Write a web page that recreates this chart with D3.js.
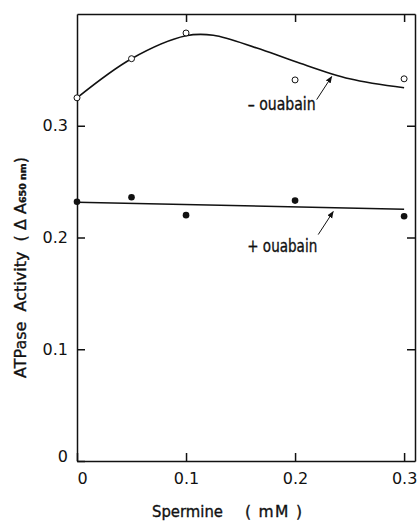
<!DOCTYPE html>
<html>
<head>
<meta charset="utf-8">
<script src="https://cdn.jsdelivr.net/npm/d3@7"></script>
<style>
  body { margin: 0; background: #fff; }
  svg { display: block; }
  .label { font-family: "DejaVu Sans", sans-serif; fill: #111; stroke: #111; stroke-width: 0.35; }
  .axis text { font-family: "DejaVu Sans", sans-serif; font-size: 16px; fill: #111; }
  .axis path, .axis line { stroke: #111; stroke-width: 1.5; }
</style>
</head>
<body>
<svg id="chart"></svg>
<script>
// spermine concentrations (mM)
const spermine = [0, 0.05, 0.1, 0.2, 0.3];
// ATPase activity, A650
const minusOuabain = [0.325, 0.360, 0.383, 0.341, 0.342];
const plusOuabain = [0.232, 0.236, 0.220, 0.233, 0.219];

// hand drawn fit curves
const minusFitX = [0, 0.05, 0.1, 0.125, 0.165, 0.2, 0.25, 0.3];
const minusFitY = [0.325, 0.360, 0.3805, 0.381, 0.3695, 0.3575, 0.342, 0.334];
const plusFitX = [0, 0.3];
const plusFitY = [0.2316, 0.2253];

const xTicks = [0, 0.1, 0.2, 0.3];
const yTicks = [0, 0.1, 0.2, 0.3];

const width = 417, height = 523;
const margin = { top: 14, right: 2, bottom: 62, left: 77 };

const svg = d3.select("#chart")
  .attr("width", width)
  .attr("height", height);

const x = d3.scaleLinear()
  .domain([0, 0.31])
  .range([margin.left, width - margin.right]);

const y = d3.scaleLinear()
  .domain([0, 0.4])
  .range([height - margin.bottom, margin.top]);

const fmt = d => d === 0 ? "0" : d3.format(".1f")(d);

// axes, ticks pointing inward
svg.append("g").attr("class", "axis")
  .attr("transform", `translate(0,${y(0)})`)
  .call(d3.axisBottom(x).tickValues(xTicks).tickFormat(fmt).tickSize(-8).tickSizeOuter(0).tickPadding(12))
  .selectAll("text").attr("dx", d => d === 0 ? 5 : 0);

svg.append("g").attr("class", "axis")
  .attr("transform", `translate(0,${y(0.4)})`)
  .call(d3.axisTop(x).tickValues(xTicks.slice(1)).tickFormat("").tickSize(-8).tickSizeOuter(0));

svg.append("g").attr("class", "axis")
  .attr("transform", `translate(${x(0)},0)`)
  .call(d3.axisLeft(y).tickValues(yTicks).tickFormat(fmt).tickSize(-8).tickSizeOuter(0).tickPadding(9))
  .selectAll("text").attr("dy", d => d === 0 ? "0.05em" : "0.32em");

svg.append("g").attr("class", "axis")
  .attr("transform", `translate(${x(0.31)},0)`)
  .call(d3.axisRight(y).tickValues(yTicks.slice(1)).tickFormat("").tickSize(-8).tickSizeOuter(0));

// fit lines
const line = d3.line()
  .x(d => x(d[0]))
  .y(d => y(d[1]))
  .curve(d3.curveCatmullRom.alpha(0.5));

svg.append("path")
  .datum(d3.zip(minusFitX, minusFitY))
  .attr("d", line)
  .attr("fill", "none")
  .attr("stroke", "#111")
  .attr("stroke-width", 1.6);

svg.append("path")
  .datum(d3.zip(plusFitX, plusFitY))
  .attr("d", line)
  .attr("fill", "none")
  .attr("stroke", "#111")
  .attr("stroke-width", 1.6);

// points
svg.append("g").selectAll("circle")
  .data(d3.zip(spermine, minusOuabain))
  .join("circle")
  .attr("cx", d => x(d[0]))
  .attr("cy", d => y(d[1]))
  .attr("r", 3)
  .attr("fill", "#fff")
  .attr("stroke", "#111")
  .attr("stroke-width", 1);

svg.append("g").selectAll("circle")
  .data(d3.zip(spermine, plusOuabain))
  .join("circle")
  .attr("cx", d => x(d[0]))
  .attr("cy", d => y(d[1]))
  .attr("r", 3.3)
  .attr("fill", "#111");

// annotations with arrows
svg.append("defs").append("marker")
  .attr("id", "head")
  .attr("viewBox", "0 0 10 10")
  .attr("refX", 9).attr("refY", 5)
  .attr("markerWidth", 7).attr("markerHeight", 7)
  .attr("markerUnits", "userSpaceOnUse")
  .attr("orient", "auto")
  .append("path")
  .attr("d", "M0,1 L10,5 L0,9 Z")
  .attr("fill", "#111");

const notes = [
  { text: "\u2013 ouabain", tip: [0.2336, 0.344], tail: [-15, 23], pos: [-16, 33], len: 68 },
  { text: "+ ouabain", tip: [0.235, 0.2232], tail: [-15, 23], pos: [-16, 40], len: 70 }
];

notes.forEach(n => {
  const tx = x(n.tip[0]), ty = y(n.tip[1]);
  svg.append("line")
    .attr("x1", tx + n.tail[0]).attr("y1", ty + n.tail[1])
    .attr("x2", tx).attr("y2", ty)
    .attr("stroke", "#111")
    .attr("stroke-width", 1)
    .attr("marker-end", "url(#head)");
  svg.append("text")
    .attr("class", "label")
    .attr("x", tx + n.pos[0])
    .attr("y", ty + n.pos[1])
    .attr("text-anchor", "end")
    .attr("textLength", n.len)
    .attr("lengthAdjust", "spacingAndGlyphs")
    .style("font-size", "17px")
    .text(n.text);
});

// axis titles
svg.append("text")
  .attr("class", "label")
  .attr("x", 152)
  .attr("y", 517)
  .style("font-size", "15.5px")
  .attr("textLength", 71)
  .attr("lengthAdjust", "spacingAndGlyphs")
  .text("Spermine");

svg.append("text")
  .attr("class", "label")
  .attr("x", 245)
  .attr("y", 517)
  .style("font-size", "15.5px")
  .attr("textLength", 57)
  .attr("lengthAdjust", "spacing")
  .attr("xml:space", "preserve")
  .text("( mM )");

const yTitle = svg.append("text")
  .attr("class", "label")
  .attr("transform", "translate(26,378) rotate(-90)")
  .attr("textLength", 221)
  .attr("lengthAdjust", "spacing")
  .style("font-size", "16px")
  .attr("xml:space", "preserve");
yTitle.append("tspan").text("ATPase  Activity  ( \u0394 A");
yTitle.append("tspan").style("font-size", "9.5px").style("font-weight", "bold").text("650 nm");
yTitle.append("tspan").text(")");
</script>
</body>
</html>
